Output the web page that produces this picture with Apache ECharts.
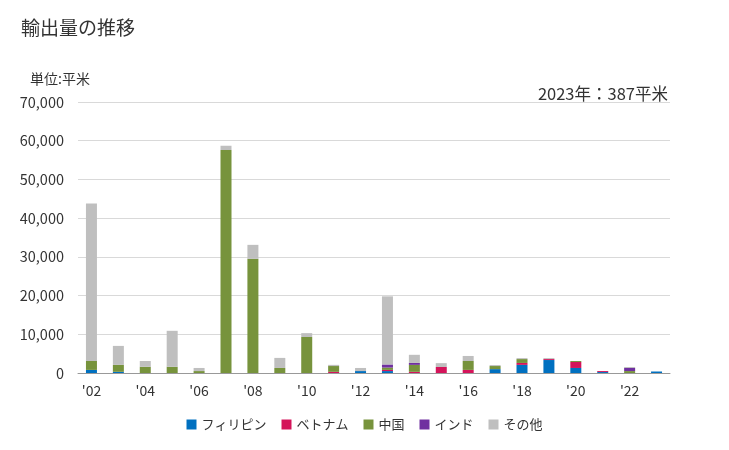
<!DOCTYPE html>
<html><head><meta charset="utf-8">
<script src="https://cdn.jsdelivr.net/npm/echarts@6/dist/echarts.min.js"></script>
<style>html,body{margin:0;padding:0;background:#fff}#c{width:729px;height:450px}</style>
</head><body><div id="c"></div>
<script>
const categories = ["'02","'03","'04","'05","'06","'07","'08","'09","'10","'11","'12","'13","'14","'15","'16","'17","'18","'19","'20","'21","'22","'23"];
const philippines = [800,300,0,0,0,0,0,0,0,0,500,500,0,0,0,1000,2100,3350,1300,250,0,387];
const vietnam     = [0,0,0,0,0,0,0,0,0,300,0,300,300,1550,800,0,500,250,1550,250,0,0];
const china       = [2300,1800,1600,1600,500,57600,29500,1300,9300,1500,0,600,1800,0,2300,800,1000,0,250,0,500,0];
const india       = [0,0,0,0,0,0,0,0,0,0,0,800,500,0,0,0,0,0,0,0,800,0];
const others      = [40700,4900,1500,9300,800,1100,3600,2600,1000,300,800,17600,2100,1000,1300,250,250,250,0,0,250,0];
const yTicks = [0,10000,20000,30000,40000,50000,60000,70000];

const font = '"Noto Sans CJK JP", "Noto Sans", sans-serif';
const chart = echarts.init(document.getElementById('c'));
const mk = (name, data, color) => ({name, type:'bar', stack:'t', data, barWidth:11, itemStyle:{color}});
chart.setOption({
  animation:false,
  textStyle:{fontFamily:font},
  title:[
    {text:'輸出量の推移', left:16, top:13, textStyle:{fontSize:19, fontWeight:'normal', color:'#333', fontFamily:font}},
    {text:'単位:平米', left:25, top:67, textStyle:{fontSize:14, fontWeight:'normal', color:'#333', fontFamily:font}},
    {text:'2023年：387平米', right:56, top:80, textStyle:{fontSize:16.5, fontWeight:'normal', color:'#333', fontFamily:font}}
  ],
  legend:{bottom:14, left:'center', itemWidth:10, itemHeight:10, itemGap:15, icon:'rect',
    textStyle:{fontSize:13, color:'#333', fontFamily:font},
    data:['フィリピン','ベトナム','中国','インド','その他']},
  grid:{left:78, right:59, top:102, bottom:77},
  xAxis:{type:'category', data:categories,
    axisLine:{lineStyle:{color:'#999', width:1}}, axisTick:{show:false},
    axisLabel:{interval:1, color:'#333', fontSize:14, margin:11, fontFamily:font}},
  yAxis:{type:'value', min:yTicks[0], max:yTicks[yTicks.length-1], interval:10000,
    axisLine:{show:false}, axisTick:{show:false},
    splitLine:{lineStyle:{color:'#d9d9d9', width:1}},
    axisLabel:{color:'#333', fontSize:14.5, margin:14, fontFamily:font,
      formatter:v=>v.toLocaleString('en-US')}},
  series:[
    mk('フィリピン', philippines, '#0070c0'),
    mk('ベトナム', vietnam, '#d4145a'),
    mk('中国', china, '#77933c'),
    mk('インド', india, '#7030a0'),
    mk('その他', others, '#bfbfbf')
  ]
});
</script></body></html>
